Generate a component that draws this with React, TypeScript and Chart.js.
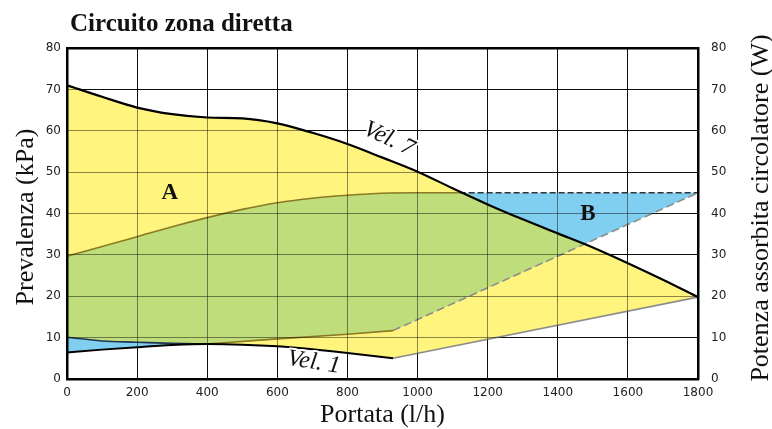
import React, { useEffect, useRef } from 'react';
import { Chart, registerables } from 'chart.js';

Chart.register(...registerables);

// ---- Data ----
// Vel. 7 curve (head, kPa) vs flow (l/h)
const vel7Flow = [0, 100, 200, 300, 400, 500, 600, 700, 800, 900, 1000, 1100, 1200, 1300, 1400, 1500, 1600, 1700, 1800];
const vel7Head = [71, 68.2, 65.6, 64.0, 63.2, 63.0, 61.8, 59.5, 56.8, 53.5, 50.1, 46.1, 42.2, 38.6, 35.2, 31.8, 28.0, 24.0, 19.8];

// Vel. 1 curve
const vel1Flow = [0, 100, 200, 300, 400, 500, 600, 700, 800, 930];
const vel1Head = [6.4, 7.1, 7.7, 8.2, 8.45, 8.3, 7.9, 7.2, 6.3, 5.0];

// minimum line from end of Vel. 1 to the max flow point
const minLineFlow = [930, 1800];
const minLineHead = [5.0, 19.8];

// upper power curve (W), solid part
const powerTopFlow = [0, 100, 200, 300, 400, 500, 600, 700, 800, 900, 1000, 1120];
const powerTop = [29.7, 32.0, 34.4, 36.8, 39.0, 41.0, 42.6, 43.7, 44.4, 44.9, 45.0, 45.0];
// upper power curve, dashed flat part
const powerFlatFlow = [1120, 1800];
const powerFlat = [45, 45];

// separating line on the left (0..400)
const splitFlow = [0, 100, 200, 300, 400];
const splitHead = [10.1, 9.2, 8.9, 8.6, 8.45];

// lower power line, solid part
const powerBottomFlow = [400, 600, 800, 930];
const powerBottom = [8.45, 9.7, 10.8, 11.7];
// lower power line, dashed part
const powerDashFlow = [930, 1800];
const powerDash = [11.7, 45];

// crossing points
const crossTop = { x: 1128, y: 45 };
const crossRight = { x: 1476, y: 32.6 };

const xTicksMax = 1800;
const yTicksMax = 80;

// labels
const titleText = 'Circuito zona diretta';
const xTitle = 'Portata (l/h)';
const yTitle = 'Prevalenza (kPa)';
const y2Title = 'Potenza assorbita circolatore (W)';
const labelA = { text: 'A', x: 293, y: 45.0 };
const labelB = { text: 'B', x: 1486, y: 39.9 };
const labelVel7 = { text: 'Vel. 7', x: 918, y: 58.0 };
const labelVel1 = { text: 'Vel. 1', x: 704, y: 4.0 };

const YELLOW = '#fff47e';
const GREEN = '#c0dd7c';
const BLUE = '#80cff0';
const OLIVE = '#8a7a22';
const GRAY = '#8c8c8c';

const pts = (xs: number[], ys: number[]) => xs.map((x, i) => ({ x, y: ys[i] }));

const SERIF = '"Liberation Serif", "Times New Roman", serif';

const textPlugin = {
  id: 'textPlugin',
  afterDraw(chart: any) {
    const ctx = chart.ctx;
    const xs = chart.scales.x;
    const ys = chart.scales.y;
    ctx.save();
    ctx.fillStyle = '#111';
    // title
    ctx.font = `bold 25px ${SERIF}`;
    ctx.textAlign = 'left';
    ctx.textBaseline = 'alphabetic';
    ctx.fillText(titleText, 70, 31);

    // axis titles
    ctx.font = `26px ${SERIF}`;
    ctx.textAlign = 'center';
    ctx.textBaseline = 'middle';
    ctx.fillText(xTitle, (chart.chartArea.left + chart.chartArea.right) / 2, 415);

    ctx.save();
    ctx.translate(26, 217);
    ctx.rotate(-Math.PI / 2);
    ctx.fillText(yTitle, 0, 0);
    ctx.restore();

    ctx.save();
    ctx.translate(761, 208);
    ctx.rotate(-Math.PI / 2);
    ctx.fillText(y2Title, 0, 0);
    ctx.restore();

    // A / B
    ctx.font = `bold 23px ${SERIF}`;
    for (const l of [labelA, labelB]) {
      ctx.fillText(l.text, xs.getPixelForValue(l.x), ys.getPixelForValue(l.y));
    }

    // Vel labels with white halo
    const drawRot = (l: any, angle: number) => {
      ctx.save();
      ctx.translate(xs.getPixelForValue(l.x), ys.getPixelForValue(l.y));
      ctx.rotate(angle);
      ctx.font = `italic 24px ${SERIF}`;
      ctx.lineWidth = 4;
      ctx.strokeStyle = '#fff';
      ctx.lineJoin = 'round';
      ctx.strokeText(l.text, 0, 0);
      ctx.fillStyle = '#111';
      ctx.fillText(l.text, 0, 0);
      ctx.restore();
    };
    drawRot(labelVel7, 0.44);
    drawRot(labelVel1, 0.15);
    ctx.restore();
  },
};

export default function App() {
  const ref = useRef<HTMLCanvasElement | null>(null);

  useEffect(() => {
    if (!ref.current) return;

    const vel7 = pts(vel7Flow, vel7Head);
    const vel1 = pts(vel1Flow, vel1Head);
    const minLine = pts(minLineFlow, minLineHead);
    const pTop = pts(powerTopFlow, powerTop);
    const pFlat = pts(powerFlatFlow, powerFlat);
    const split = pts(splitFlow, splitHead);
    const pBottom = pts(powerBottomFlow, powerBottom);
    const pDash = pts(powerDashFlow, powerDash);

    // regions
    const yellowTop = vel7;
    const yellowBottom = [...split, ...vel1.filter((p) => p.x > 400), ...minLine.slice(1)];
    const blueTop = [...pTop, ...pFlat.slice(1)];
    const blueBottom = [...vel1.filter((p) => p.x <= 400), ...pBottom.slice(1), ...pDash.slice(1)];
    const greenTop = [
      ...pTop.filter((p) => p.x <= 1000),
      crossTop,
      ...vel7.filter((p) => p.x > crossTop.x && p.x < crossRight.x),
      crossRight,
    ];
    const greenBottom = [...split, ...pBottom.slice(1), crossRight];

    const line = (data: any[], color: string, width: number, dash: number[] = [], smooth = false) => ({
      data,
      borderColor: color,
      borderWidth: width,
      borderDash: dash,
      pointRadius: 0,
      fill: false,
      tension: smooth ? 0.4 : 0,
      cubicInterpolationMode: smooth ? 'monotone' : 'default',
    });
    const area = (data: any[], target: number | false, bg: string, smooth = false) => ({
      data,
      borderWidth: 0,
      borderColor: 'transparent',
      backgroundColor: bg,
      pointRadius: 0,
      fill: target === false ? false : { target },
      tension: smooth ? 0.4 : 0,
      cubicInterpolationMode: smooth ? 'monotone' : 'default',
    });

    const datasets: any[] = [
      line(vel7, '#000', 2.2, [], true), // 0
      line(vel1, '#000', 2, [], true), // 1
      line(minLine, GRAY, 1.6), // 2
      line(pTop, OLIVE, 1.6, [], true), // 3
      line(pFlat, '#333', 1.6, [6, 3]), // 4
      line(split, '#1f3550', 1.6, [], true), // 5
      line(pBottom, OLIVE, 1.6), // 6
      line(pDash, GRAY, 1.6, [8, 4]), // 7
      line([{ x: 0, y: splitHead[0] }, { x: 0, y: powerTop[0] }], '#2f7fb5', 2, [4, 3]), // 8
      area(greenTop, 10, GREEN, true), // 9
      area(greenBottom, false, GREEN), // 10
      area(blueTop, 12, BLUE, true), // 11
      area(blueBottom, false, BLUE), // 12
      area(yellowTop, 14, YELLOW, true), // 13
      area(yellowBottom, false, YELLOW), // 14
    ];

    const tickFont = { family: '"DejaVu Sans", sans-serif', size: 12 };
    const plain = (v: any) => String(v);
    const chart = new Chart(ref.current, {
      type: 'line',
      data: { datasets },
      plugins: [textPlugin],
      options: {
        animation: false,
        responsive: false,
        layout: { padding: 0 },
        plugins: {
          legend: { display: false },
          tooltip: { enabled: false },
          title: { display: false },
        },
        scales: {
          x: {
            type: 'linear',
            position: 'bottom',
            min: 0,
            max: xTicksMax,
            ticks: { stepSize: 200, font: tickFont, color: '#222', padding: 7, maxRotation: 0, callback: plain },
            grid: { color: '#1a1a1a', lineWidth: 1, drawTicks: false },
            border: { color: '#000', width: 2.5, z: 2 },
            afterFit: (s: any) => { s.height = 50; },
          },
          x2: {
            type: 'linear',
            position: 'top',
            min: 0,
            max: xTicksMax,
            ticks: { stepSize: 200, display: false },
            grid: { color: 'rgba(0,0,0,0.45)', lineWidth: 1, drawTicks: false, z: 1 },
            border: { color: '#000', width: 2.5, z: 2 },
            afterFit: (s: any) => { s.height = 48; },
          },
          y: {
            type: 'linear',
            position: 'left',
            min: 0,
            max: yTicksMax,
            ticks: { stepSize: 10, font: tickFont, color: '#222', padding: 6, callback: plain },
            grid: { color: '#1a1a1a', lineWidth: 1, drawTicks: false },
            border: { color: '#000', width: 2.5, z: 2 },
            afterFit: (s: any) => { s.width = 67; },
          },
          y1: {
            type: 'linear',
            position: 'right',
            min: 0,
            max: yTicksMax,
            ticks: { stepSize: 10, font: tickFont, color: '#222', padding: 13, callback: plain },
            grid: { color: 'rgba(0,0,0,0.45)', lineWidth: 1, drawTicks: false, z: 1 },
            border: { color: '#000', width: 2.5, z: 2 },
            afterFit: (s: any) => { s.width = 74; },
          },
        },
      } as any,
    });
    return () => chart.destroy();
  }, []);

  return (
    <div style={{ position: 'fixed', left: 0, top: 0, width: 772, height: 429, background: '#fff' }}>
      <canvas ref={ref} width={772} height={429} style={{ display: 'block' }} />
    </div>
  );
}
